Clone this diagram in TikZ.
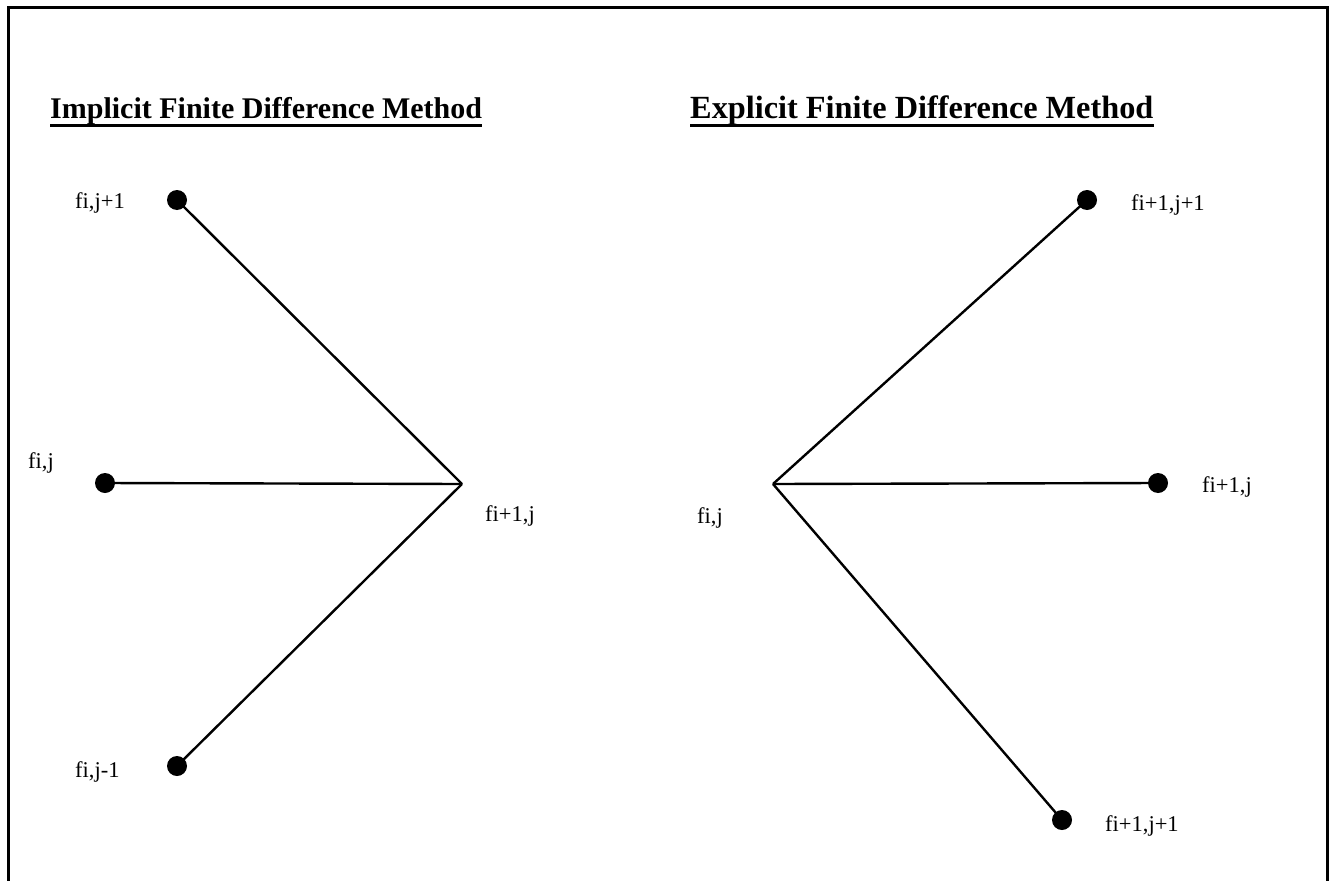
\documentclass[tikz,border=0pt]{standalone}
\usepackage{fontspec}
\setmainfont{Liberation Serif}
\begin{document}
\begin{tikzpicture}[x=1pt,y=-1pt,
  frame/.style={line width=3pt},
  conn/.style={line width=2.4pt},
  dotnode/.style={circle,fill=black,minimum size=20pt,inner sep=0pt},
  apex/.style={inner sep=0pt,minimum size=0pt},
  lbl/.style={inner sep=0pt,font=\fontsize{22.5}{24}\selectfont},
  ttl/.style={inner sep=0pt,anchor=base west,font=\bfseries\fontsize{30}{34}\selectfont},
  uline/.style={line width=3pt}]
\useasboundingbox (0,0) rectangle (1337,880);
% frame
\coordinate (fbl) at (8,890);
\coordinate (ftl) at (8,8);
\coordinate (ftr) at (1327,8);
\coordinate (fbr) at (1327,890);
\draw[frame] (fbl) -- (ftl) -- (ftr) -- (fbr);
% titles
\node[ttl] (t1) at (50,118) {Implicit Finite Difference Method};
\node[ttl,font=\bfseries\fontsize{32.3}{36}\selectfont] (t2) at (690,118) {Explicit Finite Difference Method};
\draw[uline] ([yshift=-7pt]t1.base west) -- ([yshift=-7pt]t1.base east);
\draw[uline] ([yshift=-7pt]t2.base west) -- ([yshift=-7pt]t2.base east);
% left diagram
\node[dotnode] (a1) at (177,200) {};
\node[dotnode] (a2) at (105,483) {};
\node[dotnode] (a3) at (177,766) {};
\node[apex] (a0) at (462,484) {};
\draw[conn] (a1.center) -- (a0.center);
\draw[conn] (a2.center) -- (a0.center);
\draw[conn] (a3.center) -- (a0.center);
\node[lbl,anchor=west] (la1) at (75,203) {fi,j+1};
\node[lbl,anchor=west] (la2) at (28,463) {fi,j};
\node[lbl,anchor=west] (la0) at (485,516) {fi+1,j};
\node[lbl,anchor=west] (la3) at (75,772) {fi,j-1};
% right diagram
\node[apex] (b0) at (773,484) {};
\node[dotnode] (b1) at (1087,200) {};
\node[dotnode] (b2) at (1158,483) {};
\node[dotnode] (b3) at (1062,820) {};
\draw[conn] (b0.center) -- (b1.center);
\draw[conn] (b0.center) -- (b2.center);
\draw[conn] (b0.center) -- (b3.center);
\node[lbl,anchor=west] (lb0) at (697,518) {fi,j};
\node[lbl,anchor=west] (lb1) at (1131,205) {fi+1,j+1};
\node[lbl,anchor=west] (lb2) at (1202,487) {fi+1,j};
\node[lbl,anchor=west] (lb3) at (1105,826) {fi+1,j+1};
\end{tikzpicture}
\end{document}
